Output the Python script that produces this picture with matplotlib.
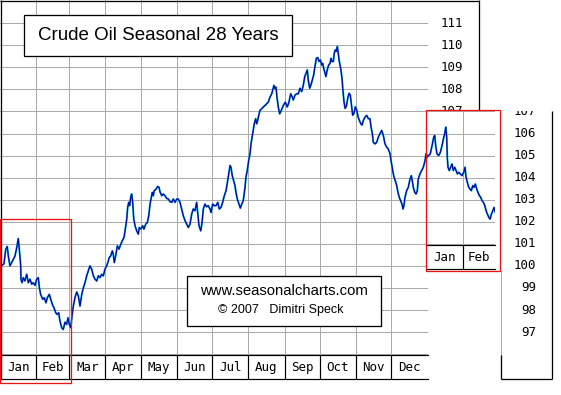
import numpy as np
import matplotlib
matplotlib.use("Agg")
import matplotlib.pyplot as plt
from matplotlib.patches import Rectangle
from matplotlib import transforms

# ---------------- data ----------------
months = ["Jan", "Feb", "Mar", "Apr", "May", "Jun", "Jul", "Aug", "Sep", "Oct", "Nov", "Dec"]
month_days = [31, 28, 31, 30, 31, 30, 31, 31, 30, 31, 30, 31]
next_months = ["Jan", "Feb"]
next_month_days = [31, 28]

main_days = [
    0.9, 2.3, 3.4, 4.9, 6.2, 7.1, 8.5, 10.0, 11.4, 12.8, 14.3, 15.6, 16.5, 17.7, 17.9, 18.8,
    19.9, 21.3, 22.8, 24.2, 25.6, 27.1, 28.4, 29.9, 31.3, 32.7, 33.6, 34.7, 36.5, 37.8, 39.3,
    40.4, 42.1, 43.3, 44.7, 46.1, 47.6, 48.9, 50.1, 51.2, 52.7, 54.0, 55.5, 56.9, 58.1, 59.2,
    60.4, 61.5, 62.6, 64.0, 65.5, 66.9, 68.3, 69.8, 71.1, 72.6, 74.0, 75.4, 76.8, 78.3, 79.7,
    81.1, 82.6, 83.9, 85.4, 86.8, 88.2, 89.6, 91.1, 92.5, 93.3, 94.5, 95.9, 96.7, 97.6, 99.0,
    100.2, 101.6, 103.1, 104.4, 105.9, 107.0, 108.2, 109.0, 109.9, 110.7, 111.6, 112.4, 113.3,
    114.2, 115.3, 116.7, 118.1, 118.9, 120.4, 121.8, 122.9, 124.4, 125.8, 127.0, 128.1, 128.9,
    130.0, 130.9, 131.7, 133.2, 134.6, 135.8, 136.6, 138.1, 139.4, 140.9, 142.3, 143.7, 145.1,
    146.6, 148.0, 149.4, 150.9, 152.2, 153.7, 155.1, 156.5, 158.0, 159.4, 160.8, 162.2, 163.7,
    165.0, 166.5, 167.9, 168.8, 169.9, 171.4, 172.5, 173.6, 175.0, 176.5, 177.8, 179.3, 180.2,
    181.6, 183.0, 184.4, 185.9, 187.2, 188.7, 190.1, 191.5, 193.0, 194.4, 195.3, 196.4, 197.2,
    198.3, 199.5, 200.6, 201.5, 202.6, 204.1, 205.2, 206.4, 207.7, 209.2, 210.0, 211.1, 212.3,
    213.5, 214.3, 215.2, 216.3, 217.1, 218.3, 219.2, 220.0, 220.9, 222.0, 223.4, 224.8, 226.3,
    227.7, 229.1, 230.5, 232.0, 233.1, 233.9, 234.8, 235.6, 236.5, 237.6, 238.8, 240.2, 241.9,
    243.6, 245.3, 246.7, 248.2, 249.6, 250.4, 251.9, 253.3, 254.7, 256.1, 257.6, 259.0, 260.2,
    261.3, 262.4, 263.2, 264.4, 265.5, 266.6, 267.8, 268.9, 270.1, 271.3, 272.4, 273.5, 274.7,
    275.5, 276.4, 277.5, 278.3, 279.4, 280.6, 281.8, 282.6, 283.5, 284.6, 285.4, 286.3, 287.1,
    288.0, 288.8, 289.7, 290.9, 292.0, 292.9, 293.7, 294.6, 295.7, 296.9, 298.0, 299.1, 299.9,
    301.1, 302.2, 303.4, 304.6, 305.7, 306.8, 308.0, 309.1, 310.2, 311.6, 313.1, 314.5, 315.9,
    316.8, 317.9, 318.7, 320.2, 321.6, 323.0, 324.4, 325.9, 327.3, 328.7, 330.2, 331.5, 333.0,
    334.1, 335.3, 336.4, 337.5, 338.7, 339.8, 340.9, 342.1, 343.2, 344.1, 344.9, 345.8, 347.2,
    348.6, 350.1, 351.2, 352.0, 352.9, 354.1, 355.2, 356.3, 357.1, 358.6, 360.0, 361.4, 362.9,
    363.7, 364.8,
]
main_values = [
    100.0, 100.05, 100.1, 100.76, 100.88, 100.45, 100.0, 100.15, 100.3, 100.45, 100.83, 101.24,
    100.76, 100.0, 99.4, 99.24, 99.47, 99.32, 99.62, 99.24, 99.4, 99.17, 99.24, 99.12, 99.4,
    99.47, 99.02, 98.71, 98.49, 98.56, 98.33, 98.56, 98.71, 98.49, 98.26, 98.1, 97.88, 97.8,
    97.88, 97.5, 97.2, 97.12, 97.45, 97.35, 97.65, 97.35, 97.2, 97.73, 98.18, 98.56, 98.82,
    98.64, 98.18, 98.71, 99.0, 99.24, 99.55, 99.77, 100.0, 99.85, 99.55, 99.4, 99.32, 99.55,
    99.47, 99.62, 99.55, 99.85, 100.0, 100.23, 100.38, 100.45, 100.68, 100.53, 100.15, 100.53,
    100.91, 100.76, 100.98, 101.14, 101.29, 101.67, 102.12, 102.65, 102.88, 102.73, 103.1,
    103.26, 102.88, 102.12, 101.82, 101.59, 101.44, 101.74, 101.67, 101.82, 101.67, 101.89,
    101.97, 102.27, 102.8, 103.03, 103.33, 103.18, 103.41, 103.48, 103.6, 103.56, 103.36,
    103.18, 103.26, 103.18, 103.06, 103.03, 102.91, 102.88, 103.03, 102.88, 103.03, 103.03,
    102.88, 102.58, 102.27, 102.05, 101.89, 101.74, 101.89, 102.35, 102.58, 102.5, 102.88,
    102.42, 101.82, 101.59, 101.97, 102.58, 102.8, 102.68, 102.73, 102.58, 102.42, 102.8,
    102.73, 102.73, 102.88, 102.58, 102.65, 102.88, 103.18, 103.41, 103.86, 104.17, 104.55,
    104.47, 104.09, 103.86, 103.64, 103.33, 103.03, 102.8, 102.62, 102.8, 102.95, 103.56,
    104.02, 104.32, 104.77, 105.08, 105.53, 105.83, 106.21, 106.44, 106.67, 106.44, 106.59,
    106.82, 107.05, 107.12, 107.2, 107.27, 107.35, 107.42, 107.65, 107.8, 108.03, 108.18,
    108.03, 108.1, 107.65, 107.2, 106.89, 107.05, 107.27, 107.42, 107.2, 107.42, 107.8,
    107.65, 107.52, 107.74, 107.8, 107.8, 108.05, 107.9, 108.2, 108.58, 108.73, 108.88,
    108.42, 108.05, 108.2, 108.42, 108.65, 109.03, 109.41, 109.44, 109.26, 109.33, 109.1,
    109.18, 108.95, 108.73, 108.58, 108.88, 109.1, 109.18, 109.41, 109.26, 109.26, 109.64,
    109.79, 109.72, 109.94, 109.64, 109.26, 108.95, 108.5, 107.9, 107.44, 107.14, 107.22,
    107.59, 107.82, 107.74, 107.36, 106.83, 106.91, 107.21, 107.06, 106.76, 106.6, 106.45,
    106.38, 106.59, 106.74, 106.82, 106.67, 106.67, 106.29, 105.99, 105.6, 105.53, 105.6,
    105.83, 105.99, 106.14, 105.91, 105.53, 105.38, 105.3, 105.08, 104.7, 104.32, 104.02,
    103.86, 103.64, 103.33, 103.11, 102.95, 102.8, 102.58, 102.73, 103.11, 103.41, 103.56,
    103.94, 104.09, 103.86, 103.56, 103.33, 103.26, 103.41, 103.94, 104.17, 104.32, 104.47,
    104.77, 105.08, 105.0,
]

next_days = [
    0.6, 2.0, 3.4, 4.9, 6.3, 7.2, 8.0, 9.1, 10.6, 12.0, 13.4, 14.9, 15.7, 16.6, 17.4, 17.9,
    18.5, 19.6, 20.8, 21.9, 23.1, 24.2, 25.4, 26.5, 27.7, 29.0, 30.5, 31.9, 33.0, 33.9, 35.0,
    36.2, 37.3, 38.4, 39.6, 40.7, 41.8, 43.0, 44.1, 45.3, 46.4, 47.6, 48.7, 49.9, 51.0, 52.1,
    53.3, 54.4, 55.5, 56.7, 57.8, 58.9,
]
next_values = [
    104.92, 105.0, 105.08, 105.45, 105.83, 105.91, 105.45, 105.08, 105.0, 105.15, 105.45,
    105.83, 105.99, 106.29, 105.83, 104.92, 104.47, 104.32, 104.47, 104.62, 104.32, 104.47,
    104.32, 104.17, 104.24, 104.17, 104.09, 104.24, 104.47, 104.02, 103.79, 103.56, 103.48,
    103.41, 103.64, 103.56, 103.71, 103.48, 103.33, 103.18, 103.11, 102.95, 102.88, 102.73,
    102.5, 102.35, 102.2, 102.12, 102.35, 102.5, 102.65, 102.42,
]
main_ticks = [111, 110, 109, 108, 107]
second_ticks = [107, 106, 105, 104, 103, 102, 101, 100, 99, 98, 97]

title = "Crude Oil Seasonal 28 Years"
credit_url = "www.seasonalcharts.com"
credit_name = "\u00a9 2007   Dimitri Speck"

# ---------------- layout helpers ----------------
W, H = 561, 395
fig = plt.figure(figsize=(W / 100, H / 100), dpi=100)
fig.patch.set_facecolor("white")

PX_TOP, PX_PER = 23.15, 22.07   # pixel row of value 111 and pixels per unit


def v_at(py):
    return 111 - (py - PX_TOP) / PX_PER


def px_axes(x0, y0, x1, y1, z):
    a = fig.add_axes([x0 / W, 1 - y1 / H, (x1 - x0) / W, (y1 - y0) / H], zorder=z)
    a.set_axis_off()
    return a


GRID = "#aaaaaa"
PX = 0.72
MONO = "DejaVu Sans Mono"
LINE_LIGHT = "#1aa6c6"
LINE_DARK = "#0000a8"

# ---------------- main plot ----------------
ax = px_axes(0, 0, 427.5, 355, 1)
ax.set_xlim(0, sum(month_days))
ax.set_ylim(v_at(355), v_at(0))
cum = np.concatenate([[0], np.cumsum(month_days)])
for d in cum[1:-1]:
    ax.axvline(d, color=GRID, lw=PX, zorder=1)
for v in range(96, 113):
    ax.axhline(v, color=GRID, lw=PX, zorder=1)
ax.plot(main_days, main_values, color=LINE_LIGHT, lw=1.4, zorder=2)
ax.plot(main_days, main_values, color=LINE_DARK, lw=0.8, zorder=3)

# month row
axm = px_axes(0, 355, 427.5, 378.5, 2)
axm.set_xlim(0, sum(month_days))
axm.set_ylim(0, 1)
axm.axhline(0, color="black", lw=PX * 1.2, clip_on=False)
axm.axhline(1, color="black", lw=PX * 1.2, clip_on=False)
for d in cum[1:-1]:
    axm.axvline(d, color="black", lw=PX * 1.2)
for i, m in enumerate(months):
    axm.text((cum[i] + cum[i + 1]) / 2, 0.47, m, ha="center", va="center",
             family=MONO, fontsize=9)

# ---------------- overlay in pixel space ----------------
axo = px_axes(0, 0, W, H, 5)
axo.patch.set_alpha(0)
axo.set_xlim(0, W)
axo.set_ylim(H, 0)
k = dict(color="black", lw=PX * 1.3, solid_capstyle="butt")
axo.plot([0, 479.5], [0.5, 0.5], **k)
axo.plot([0.8, 0.8], [0, 379], **k)
axo.plot([479.5, 479.5], [0, 111], **k)
# shifted copy frame
axo.plot([500.7, 500.7], [271, 355], color=GRID, lw=PX)
axo.plot([500.7, 500.7], [355, 378.5], **k)
axo.plot([552, 552], [111, 378.5], **k)
axo.plot([500.7, 552], [378.5, 378.5], **k)

bt = transforms.blended_transform_factory(axo.transData, ax.transData)
clip_top = Rectangle((427.5 / W, 1 - 111 / H), 133.5 / W, 111 / H, transform=fig.transFigure)
clip_bot = Rectangle((427.5 / W, 0), 133.5 / W, (H - 111) / H, transform=fig.transFigure)
for v in main_ticks:
    t = axo.text(463.5, v, str(v), transform=bt, ha="right", va="center",
                 family=MONO, fontsize=9)
    t.set_clip_on(True)
    t.set_clip_path(clip_top)
for v in second_ticks:
    t = axo.text(536, v, str(v), transform=bt, ha="right", va="center",
                 family=MONO, fontsize=9)
    t.set_clip_on(True)
    t.set_clip_path(clip_bot)

# ---------------- inset: following Jan-Feb ----------------
axi = px_axes(426.3, 110, 495.5, 245, 6)
axi.set_xlim(0, sum(next_month_days))
axi.set_ylim(v_at(245), v_at(110))
axi.axvline(next_month_days[0], color=GRID, lw=PX, zorder=1)
for v in range(101, 108):
    axi.axhline(v, color=GRID, lw=PX, zorder=1)
axi.plot(next_days, next_values, color=LINE_LIGHT, lw=1.4, zorder=2)
axi.plot(next_days, next_values, color=LINE_DARK, lw=0.8, zorder=3)

axim = px_axes(426.3, 245, 495.5, 269, 6)
axim.set_xlim(0, sum(next_month_days))
axim.set_ylim(0, 1)
axim.axhline(0, color="black", lw=PX * 1.2, clip_on=False)
axim.axhline(1, color="black", lw=PX * 1.2, clip_on=False)
axim.axvline(next_month_days[0], color="black", lw=PX * 1.2)
ncum = np.concatenate([[0], np.cumsum(next_month_days)])
for i, m in enumerate(next_months):
    axim.text((ncum[i] + ncum[i + 1]) / 2, 0.47, m, ha="center", va="center",
              family=MONO, fontsize=9)

# ---------------- top overlay: boxes and texts ----------------
axt = px_axes(0, 0, W, H, 10)
axt.patch.set_alpha(0)
axt.set_xlim(0, W)
axt.set_ylim(H, 0)
axt.add_patch(Rectangle((426.3, 110.3), 73.9, 160.4, fill=False, edgecolor="#ee1111", lw=PX * 1.3))
axt.add_patch(Rectangle((0.3, 219.3), 70.7, 163.4, fill=False, edgecolor="#ee1111", lw=PX * 1.3))

axt.add_patch(Rectangle((24.5, 14.5), 267.8, 41.5, facecolor="white", edgecolor="black", lw=PX * 1.3))
axt.text(158.4, 35.6, title, ha="center", va="center", family="Liberation Sans", fontsize=13.5)

axt.add_patch(Rectangle((187.5, 275.8), 193.2, 50, facecolor="white", edgecolor="black", lw=PX * 1.3))
axt.text(283.7, 291, credit_url, ha="center", va="center", family="Liberation Sans", fontsize=10.7)
axt.text(280.3, 309.8, credit_name, ha="center", va="center", family="Liberation Sans", fontsize=9)

fig.savefig("out.png", dpi=100, facecolor="white")
